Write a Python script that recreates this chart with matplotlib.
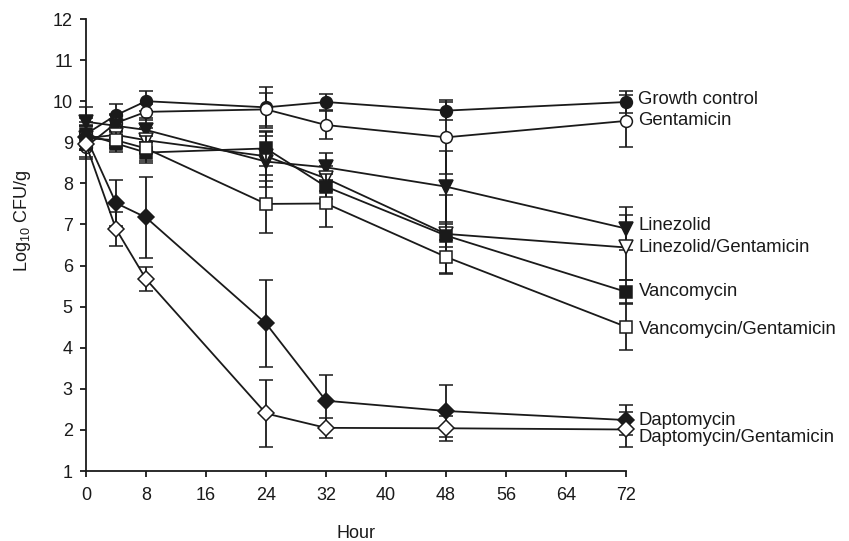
import matplotlib
matplotlib.use("Agg")
import matplotlib.pyplot as plt

plt.rcParams['font.family'] = ['Liberation Sans', 'DejaVu Sans']
plt.rcParams['mathtext.fontset'] = 'custom'
plt.rcParams['mathtext.rm'] = 'Liberation Sans'
plt.rcParams['mathtext.default'] = 'regular'

hours = [0, 4, 8, 24, 32, 48, 72]

growth = [9.20, 9.66, 10.00, 9.85, 9.98, 9.77, 9.98]
growth_err = [0.40, 0.28, 0.25, 0.50, 0.20, 0.22, 0.27]
gent = [8.89, 9.47, 9.74, 9.80, 9.42, 9.12, 9.52]
gent_err = [0.30, 0.20, 0.20, 0.40, 0.33, 0.90, 0.64]
linez = [9.50, 9.40, 9.30, 8.53, 8.39, 7.92, 6.90]
linez_err = [0.35, 0.30, 0.30, 0.63, 0.35, 0.87, 0.53]
linez_gent = [9.10, 9.18, 9.05, 8.66, 8.12, 6.77, 6.44]
linez_gent_err = [0.30, 0.25, 0.30, 0.60, 0.30, 0.95, 0.78]
vanco = [9.20, 8.97, 8.75, 8.85, 7.92, 6.73, 5.36]
vanco_err = [0.30, 0.20, 0.25, 0.42, 0.30, 0.28, 0.30]
vanco_gent = [9.10, 9.05, 8.85, 7.50, 7.51, 6.21, 4.51]
vanco_gent_err = [0.30, 0.20, 0.30, 0.70, 0.57, 0.42, 0.57]
dapto = [9.13, 7.52, 7.17, 4.59, 2.71, 2.46, 2.24]
dapto_err = [0.30, 0.55, 0.98, 1.06, 0.63, 0.63, 0.37]
dapto_gent = [8.95, 6.89, 5.67, 2.40, 2.05, 2.04, 2.01]
dapto_gent_err = [0.30, 0.42, 0.30, 0.81, 0.25, 0.30, 0.42]

names = ["Growth control", "Gentamicin", "Linezolid", "Linezolid/Gentamicin",
         "Vancomycin", "Vancomycin/Gentamicin", "Daptomycin", "Daptomycin/Gentamicin"]
values = [growth, gent, linez, linez_gent, vanco, vanco_gent, dapto, dapto_gent]
errors = [growth_err, gent_err, linez_err, linez_gent_err, vanco_err, vanco_gent_err,
          dapto_err, dapto_gent_err]

x_ticks = [0, 8, 16, 24, 32, 40, 48, 56, 64, 72]
y_ticks = list(range(1, 13))

# styles
markers = ['o', 'o', 'v', 'v', 's', 's', 'D', 'D']
faces = ['#1a1a1a', 'white', '#1a1a1a', 'white', '#1a1a1a', 'white', '#1a1a1a', 'white']
msizes = [8.5, 8.5, 9.5, 9.5, 8.0, 8.0, 8.0, 8.0]
label_dy = [2, 0, 2, 0, 0, -2, 0, -6]
FS = 13

fig = plt.figure(figsize=(8.49, 5.41), dpi=100)
ax = fig.add_axes([86 / 849, 1 - 471 / 541, 540 / 849, 452 / 541])

for i, (nm, v, e) in enumerate(zip(names, values, errors)):
    ax.errorbar(hours, v, yerr=e, color='#1a1a1a', lw=1.3, elinewidth=1.3,
                capsize=4.7, capthick=1.3, marker=markers[i], ms=msizes[i],
                mfc=faces[i], mec='#1a1a1a', mew=1.1, zorder=3 + i * 0.1,
                clip_on=False)
    ax.annotate(nm, xy=(hours[-1], v[-1]), xytext=(9, label_dy[i]),
                textcoords='offset points', va='center', ha='left',
                fontsize=13.3, color='#1a1a1a')

ax.set_xlim(0, 72)
ax.set_ylim(1, 12)
ax.set_xticks(x_ticks)
ax.set_yticks(y_ticks)
for s in ['top', 'right']:
    ax.spines[s].set_visible(False)
for s in ['left', 'bottom']:
    ax.spines[s].set_linewidth(1.3)
    ax.spines[s].set_color('#1a1a1a')
ax.tick_params(axis='both', direction='out', length=4.5, width=1.3,
               labelsize=FS, colors='#1a1a1a')
ax.tick_params(axis='x', pad=7)
ax.tick_params(axis='y', pad=5)

ax.set_xlabel('Hour', fontsize=FS, color='#1a1a1a')
ax.set_ylabel(r'Log$_{10}$ CFU/g', fontsize=FS, color='#1a1a1a')
ax.xaxis.set_label_coords(0.5, -0.12)
ax.yaxis.set_label_coords(-0.098, 0.553)

fig.savefig('out.png', dpi=100)
